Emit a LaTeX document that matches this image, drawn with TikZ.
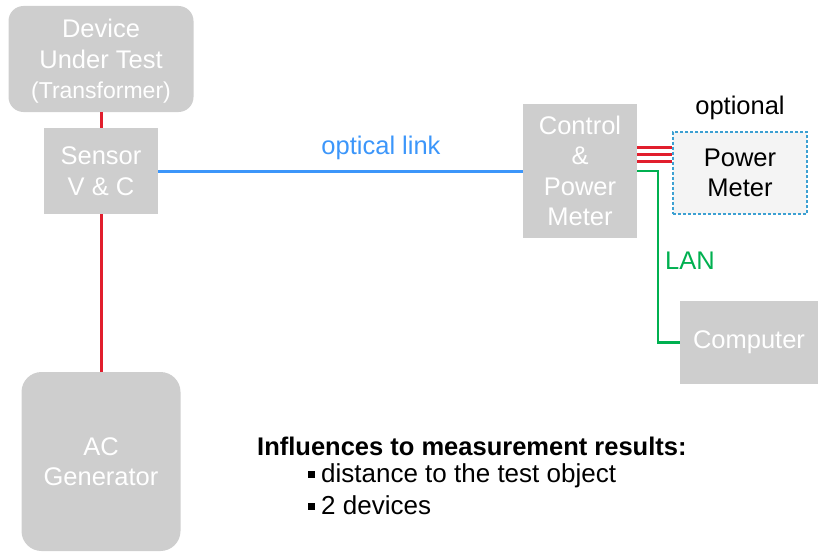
\documentclass[tikz,border=0pt]{standalone}
\usepackage{fontspec}
\setmainfont{Liberation Sans}
\usetikzlibrary{positioning}
\definecolor{boxgrey}{RGB}{206,206,206}
\definecolor{wirered}{RGB}{225,30,45}
\definecolor{linkblue}{RGB}{60,150,250}
\definecolor{langreen}{RGB}{0,176,80}
\definecolor{dashblue}{RGB}{60,160,210}
\definecolor{optfill}{RGB}{244,244,244}

\tikzset{
  bigtext/.style={font=\fontsize{25.5}{30.5}\selectfont},
  unit/.style={fill=boxgrey, text=white, align=center, inner sep=0pt, bigtext},
  redwire/.style={draw=wirered, line width=3pt},
  optwire/.style={draw=linkblue, line width=3pt},
  lanwire/.style={draw=langreen, line width=2.5pt},
}

\begin{document}
\begin{tikzpicture}[x=1pt,y=-1pt]
    \useasboundingbox (0,0) rectangle (818,551);
    % boxes
    \node[unit, rounded corners=15pt, minimum width=185pt, minimum height=106pt] (dut) at (101,59)
      {Device\\Under Test\\\smash{\fontsize{23}{30}\selectfont(Transformer)}};
    \node[unit, minimum width=114pt, minimum height=86pt] (sensor) at (101,171) {Sensor\\V \& C};
    \node[unit, rounded corners=20pt, minimum width=159pt, minimum height=179pt] (acgen) at (101,461.5)
      {AC\\Generator};
    \node[unit, minimum width=114pt, minimum height=134pt] (ctrl) at (580,171)
      {Control\\\&\\Power\\Meter};
    \node[unit, minimum width=138pt, minimum height=83pt] (pc) at (749,342.5) {Computer};
    \node[unit, fill=optfill, text=black, draw=dashblue, line width=1.2pt, dash pattern=on 3pt off 2pt,
      minimum width=134pt, minimum height=82pt] (pm) at (740,173) {Power\\Meter};
    % wires
    \draw[redwire] (dut.south) -- (sensor.north);
    \draw[redwire] (sensor.south) -- (acgen.north);
    \draw[optwire] (sensor.east) -- (ctrl.west);
    \foreach \dy in {147,154,161}
      \draw[redwire] (ctrl.east |- 0,\dy) -- (pm.west |- 0,\dy);
    \draw[lanwire] (ctrl.east) -- ++(21,0) |- (pc.west);
    % labels
    \node[text=linkblue, bigtext] (optlabel) at (381,148) {optical link};
    \node[text=langreen, bigtext] (lanlabel) at (690,261) {LAN};
    \node[bigtext] (optional) at (740,108) {optional};
    % note
    \node[anchor=west, inner sep=0pt, font=\bfseries\fontsize{25.5}{30.5}\selectfont] (note) at (257,446)
      {Influences to measurement results:};
    \foreach \txt [count=\k] in {distance to the test object, 2 devices}{
      \node[anchor=west, inner sep=0pt, font=\fontsize{26}{30.5}\selectfont] (item\k) at (308,446+29.5*\k)
        {\rule[4pt]{7pt}{7pt}\hspace{6pt}\txt};
    }
  \end{tikzpicture}
\end{document}
